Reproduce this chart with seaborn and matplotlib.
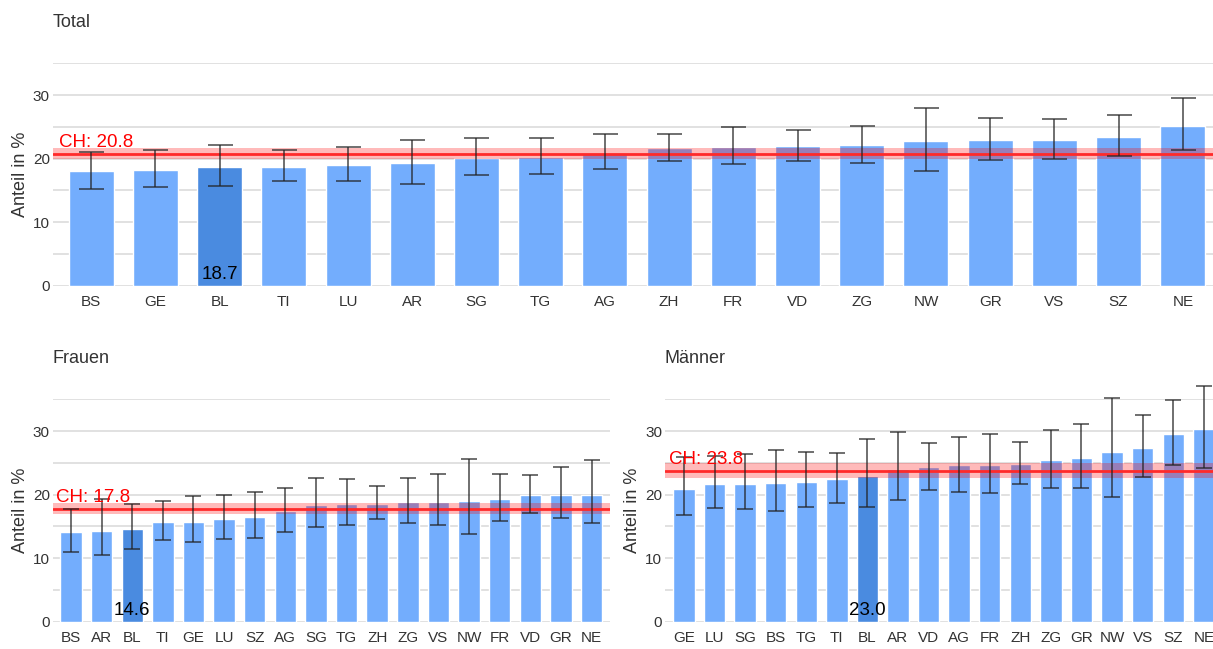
import numpy as np
import pandas as pd
import seaborn as sns
import matplotlib
matplotlib.use("Agg")
import matplotlib.pyplot as plt

# values (Anteil in %)
total_cat = ["BS", "GE", "BL", "TI", "LU", "AR", "SG", "TG", "AG", "ZH", "FR", "VD", "ZG", "NW", "GR", "VS", "SZ", "NE"]
total_val = [18.1, 18.25, 18.7, 18.7, 19.0, 19.35, 20.1, 20.3, 20.9, 21.7, 21.9, 22.0, 22.2, 22.7, 23.0, 23.0, 23.45, 25.2]
total_lo = [15.25, 15.5, 15.7, 16.4, 16.4, 16.0, 17.35, 17.55, 18.3, 19.7, 19.1, 19.7, 19.3, 18.1, 19.8, 20.0, 20.35, 21.35]
total_hi = [21.1, 21.3, 22.1, 21.35, 21.8, 23.0, 23.25, 23.2, 23.9, 23.9, 25.0, 24.45, 25.2, 27.9, 26.4, 26.25, 26.9, 29.55]

frauen_cat = ["BS", "AR", "BL", "TI", "GE", "LU", "SZ", "AG", "SG", "TG", "ZH", "ZG", "VS", "NW", "FR", "VD", "GR", "NE"]
frauen_val = [14.15, 14.3, 14.6, 15.75, 15.75, 16.2, 16.5, 17.5, 18.4, 18.6, 18.6, 18.9, 18.9, 19.05, 19.4, 20.0, 20.0, 20.0]
frauen_lo = [11.05, 10.5, 11.4, 12.85, 12.5, 12.95, 13.15, 14.2, 14.85, 15.25, 16.15, 15.5, 15.3, 13.8, 15.8, 17.1, 16.3, 15.5]
frauen_hi = [17.8, 19.4, 18.5, 19.0, 19.75, 19.9, 20.4, 21.1, 22.65, 22.4, 21.4, 22.7, 23.2, 25.6, 23.3, 23.05, 24.3, 25.5]

maenner_cat = ["GE", "LU", "SG", "BS", "TG", "TI", "BL", "AR", "VD", "AG", "FR", "ZH", "ZG", "GR", "NW", "VS", "SZ", "NE"]
maenner_val = [20.95, 21.75, 21.75, 21.9, 22.05, 22.4, 23.0, 24.1, 24.3, 24.6, 24.75, 24.9, 25.4, 25.85, 26.65, 27.4, 29.5, 30.3]
maenner_lo = [16.75, 17.95, 17.8, 17.5, 18.0, 18.75, 18.1, 19.15, 20.8, 20.4, 20.3, 21.75, 21.0, 21.05, 19.6, 22.85, 24.7, 24.2]
maenner_hi = [25.95, 26.1, 26.4, 27.1, 26.7, 26.5, 28.8, 29.95, 28.2, 29.1, 29.6, 28.3, 30.15, 31.2, 35.2, 32.5, 34.85, 37.1]

# Swiss average with its band
ch_val = [20.8, 17.8, 23.8]
ch_lo = [20.0, 16.9, 22.7]
ch_hi = [21.6, 18.7, 25.0]

titles = ["Total", "Frauen", "Männer"]
highlight = "BL"

sns.set_style("white")
plt.rcParams["font.family"] = ["Liberation Sans", "DejaVu Sans"]

LIGHT = "#73adfd"
DARK = "#4a8be0"
GREY = "#333333"

fig = plt.figure(figsize=(12.13, 6.49), dpi=100)
ax_t = fig.add_axes([0.0434, 0.5598, 0.9566, 0.3427])
ax_f = fig.add_axes([0.0434, 0.0421, 0.4594, 0.3424])
ax_m = fig.add_axes([0.5482, 0.0421, 0.4518, 0.3424])

panels = [
    (ax_t, total_cat, total_val, total_lo, total_hi, (-0.6, 17.47), 9),
    (ax_f, frauen_cat, frauen_val, frauen_lo, frauen_hi, (-0.6, 17.6), 5.6),
    (ax_m, maenner_cat, maenner_val, maenner_lo, maenner_hi, (-0.62, 17.3), 5.6),
]

for i, (ax, cat, val, lo, hi, xl, cap) in enumerate(panels):
    df = pd.DataFrame({"kanton": cat, "wert": val})
    pal = {c: (DARK if c == highlight else LIGHT) for c in cat}
    sns.barplot(data=df, x="kanton", y="wert", hue="kanton", palette=pal,
                legend=False, width=0.7, saturation=1, ax=ax, zorder=2)

    x = np.arange(len(cat))
    v = np.array(val)
    yerr = np.vstack([v - np.array(lo), np.array(hi) - v])

    # CH band + line
    ax.axhspan(ch_lo[i], ch_hi[i], color="red", alpha=0.27, lw=0, zorder=3)
    ax.axhline(ch_val[i], color="#ff2a2a", lw=2, zorder=3)
    ax.text(-0.5, ch_val[i] + 1.1, f"CH: {ch_val[i]:.1f}", color="red",
            fontsize=13.5, ha="left", va="baseline", zorder=5)

    eb = ax.errorbar(x, v, yerr=yerr, fmt="none", ecolor="#222222", alpha=0.7,
                     elinewidth=1.3, capsize=cap, capthick=1.3, zorder=4)
    for part in eb.lines[1] + eb.lines[2]:
        part.set_clip_on(False)

    k = cat.index(highlight)
    ax.text(k, 1.0, f"{val[k]:.1f}", ha="center", va="baseline",
            fontsize=13.5, color="black", zorder=5)

    ax.set_xlim(*xl)
    ax.set_ylim(0, 35)
    ax.set_yticks([0, 10, 20, 30])
    ax.set_yticks([5, 15, 25, 35], minor=True)
    ax.grid(axis="y", which="both", color="#dcdcdc", lw=1.2)
    ax.grid(axis="x", visible=False)
    ax.set_axisbelow(True)
    sns.despine(ax=ax, left=True, bottom=True)
    ax.tick_params(axis="x", length=0, pad=7, labelsize=11, labelcolor=GREY)
    ax.tick_params(axis="y", which="both", length=0, pad=2, labelsize=11, labelcolor=GREY)
    ax.set_xlabel("")
    ax.set_ylabel("Anteil in %", fontsize=13, color=GREY)
    ax.set_title(titles[i], loc="left", fontsize=13, color=GREY, pad=26)

ax_t.yaxis.set_label_coords(-0.0202, 0.5)
ax_f.yaxis.set_label_coords(-0.0425, 0.5)
ax_m.yaxis.set_label_coords(-0.0438, 0.5)

fig.savefig("out.png", dpi=100)
